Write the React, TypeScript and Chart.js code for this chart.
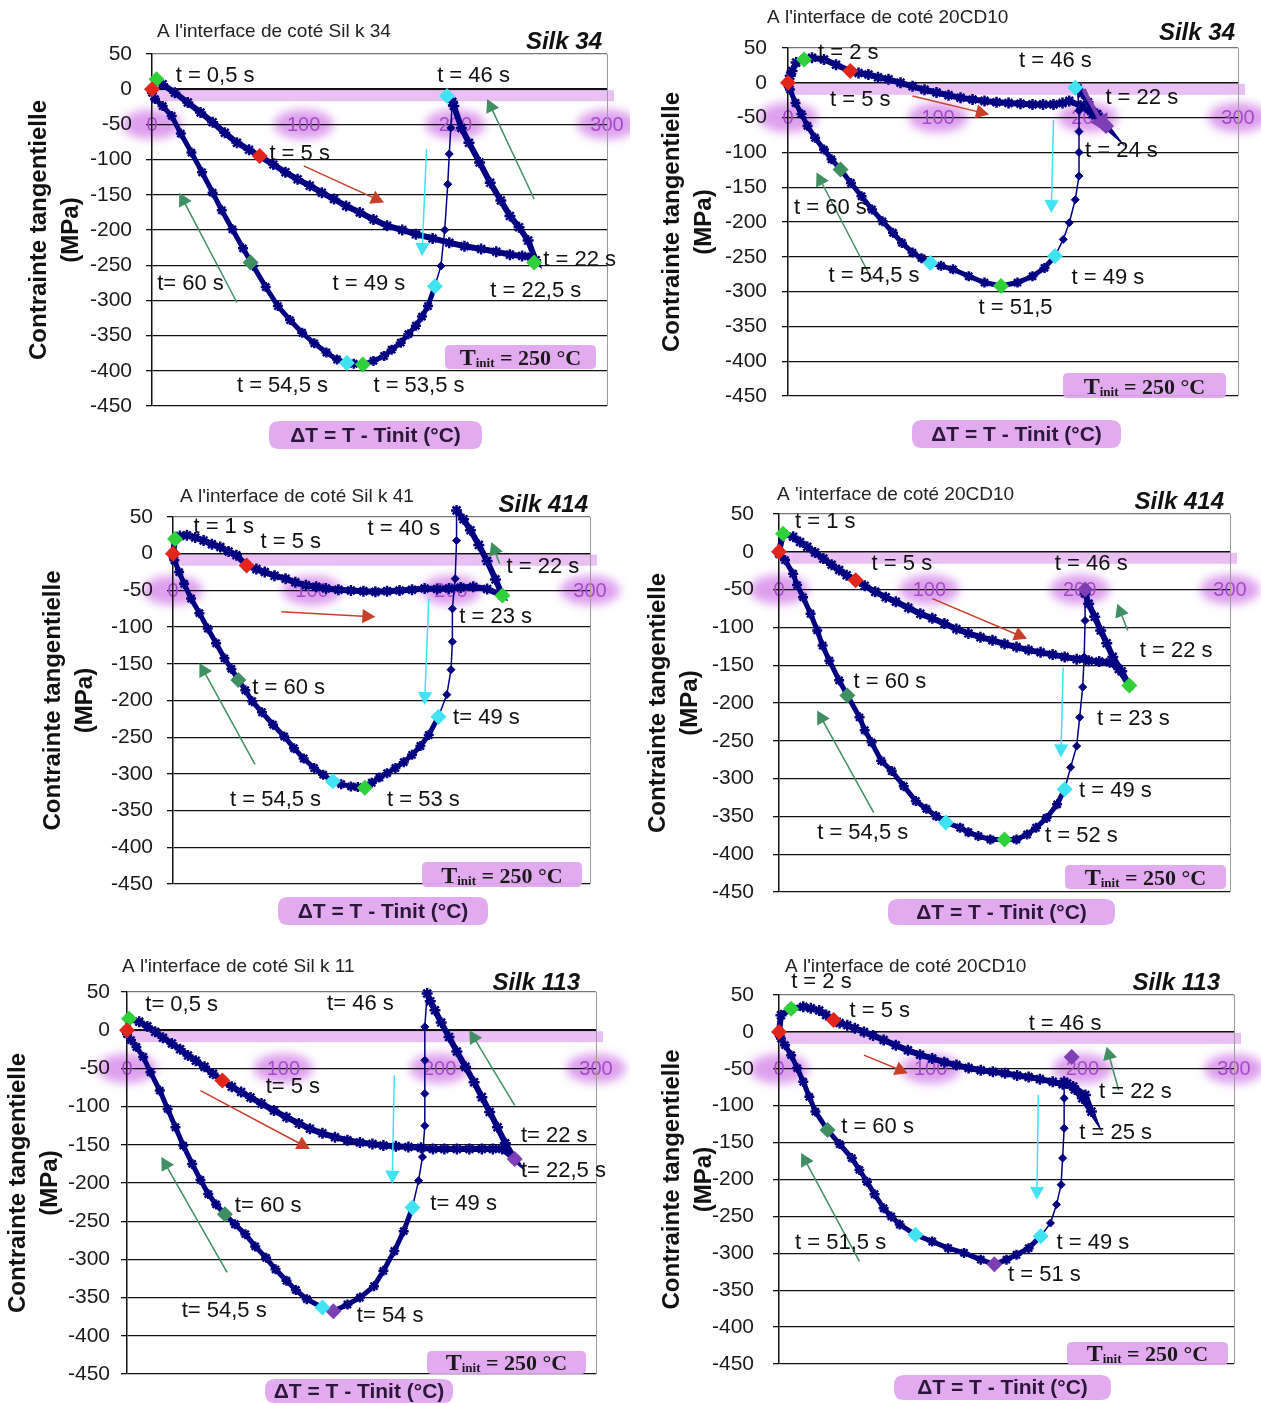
import React, { useEffect, useRef } from 'react';
import { Chart, registerables } from 'chart.js';
Chart.register(...registerables);

type Pt = [number, number];
type Lbl = [string, number, number];
type Arr = [number, number, number, number];

// ---------- shared axis values ----------
const xMin = 0, xMax = 300, xStep = 100;
const yMin = -450, yMax = 50, yStep = 50;
const yTitle = ['Contrainte tangentielle', '(MPa)'];
const xTitle = 'ΔT = T - Tinit (°C)';
const tinitMain = 'T', tinitSub = 'init', tinitRest = ' = 250 °C';

// ---------- Panel 1 : Silk 34, interface côté Silk 34 ----------
const p1Title = "A l'interface de coté Sil k 34";
const p1Silk = 'Silk 34';
const p1Heat: Pt[] = [[0,0],[3,12],[7,7],[15,-5],[23.6,-19],[32,-33],[40,-47],[48,-62],[56,-76],[64,-86],[71,-95],[80,-107],[88,-118],[96,-128],[104,-137],[112,-147],[120,-156],[128,-166],[137,-175],[146,-185],[155,-194],[165,-200],[174,-206],[185,-212],[196,-218],[206,-223],[217,-227],[227,-231],[236,-235],[244,-237],[250,-238],[253,-243],[248,-215],[242,-196],[236,-180],[230,-158],[223,-133],[216,-104],[209,-76],[204,-55],[199,-24],[198,-18]];
const p1Jump: Pt[] = [[198,-18],[197,-55],[196,-92],[195,-135],[193,-200],[190.5,-251],[186.5,-280]];
const p1Cool: Pt[] = [[186.5,-280],[182,-308],[178,-323],[174,-336],[169,-348],[164,-360],[158,-370],[153,-379],[146,-386],[139,-391],[133,-390],[128.5,-389],[122,-384],[115,-374],[107,-361],[99,-346],[91,-328],[83,-308],[75,-281],[66.7,-251],[60,-226],[53,-199],[46,-172],[40,-147],[33,-118],[26,-90],[19,-63],[13,-38],[7,-24],[2,-14],[0,-5]];
const p1Red: Pt[] = [[0,0],[71,-95]];
const p1Green: Pt[] = [[3,14],[252,-246],[139,-391]];
const p1DkGreen: Pt[] = [[65,-246]];
const p1Cyan: Pt[] = [[194.5,-9.5],[186.5,-280],[128.5,-389]];
const p1Purple: Pt[] = [];
const p1Labels: Lbl[] = [['t = 0,5 s',15.6,19],['t = 46 s',188,19],['t = 5 s',77.4,-92],['t= 60 s',3.4,-277],['t = 49 s',119,-277],['t = 22 s',258,-242],['t = 22,5 s',223,-287],['t = 54,5 s',56,-422],['t = 53,5 s',146,-422]];
const p1RedArrows: Arr[] = [[100,-109,153,-161]];
const p1GreenArrows: Arr[] = [[56,-303,18,-147],[252,-156,221,-14]];
const p1CyanArrows: Arr[] = [[181,-85,178,-237]];
const p1PurpleArrows: Arr[] = [];

// ---------- Panel 2 : Silk 34, interface côté 20CD10 ----------
const p2Title = "A l'interface de coté 20CD10";
const p2Silk = 'Silk 34';
const p2Heat: Pt[] = [[0,0],[1.5,10],[2.7,17],[5.4,29],[10.7,33.5],[16,36],[24,33.5],[32,26],[41.5,17],[47,14],[53.6,12],[60,8],[67,5],[75,0],[83,-5],[91,-10],[99,-14],[107,-18],[115,-21.5],[123,-24],[131,-26],[139,-28],[147,-29],[155,-30],[163,-31],[170,-31],[177,-31],[183,-29],[187.5,-26],[195,-33],[203,-45],[212,-62],[206,-45],[200,-28],[196,-15],[193,-8]];
const p2Jump: Pt[] = [[193,-8],[194,-40],[194,-70],[194,-100],[194,-134],[191.5,-168],[187.5,-201],[183.5,-225],[178,-249]];
const p2Cool: Pt[] = [[178,-249],[171,-266],[163,-278],[153,-287],[142,-292],[131,-287],[120.5,-278],[110,-268],[102,-263],[95,-259],[89,-252],[83,-244],[76,-230],[70,-215.5],[63,-199],[56,-182],[49,-163],[42,-144],[35,-124.5],[29,-110],[24,-96],[18,-79],[13,-62],[9,-45],[5,-29],[1.3,-9.6],[0,-3]];
const p2Red: Pt[] = [[0,0],[41.5,17]];
const p2Green: Pt[] = [[10.7,33.5],[142,-292]];
const p2DkGreen: Pt[] = [[35,-124.5]];
const p2Cyan: Pt[] = [[191.5,-7],[178,-249],[95,-259]];
const p2Purple: Pt[] = [[212,-62]];
const p2Labels: Lbl[] = [['t = 2 s',20,43],['t = 46 s',154,31],['t = 5 s',28,-24],['t = 22 s',211.6,-21.5],['t = 24 s',198,-98],['t = 60 s',4,-179.6],['t = 54,5 s',27,-278],['t = 51,5',127,-323],['t = 49 s',189,-280]];
const p2RedArrows: Arr[] = [[83,-19,134,-45.5]];
const p2GreenArrows: Arr[] = [[56,-283,19,-129]];
const p2CyanArrows: Arr[] = [[177,-53,175.5,-187]];
const p2PurpleArrows: Arr[] = [[197,-10,213,-72]];

// ---------- Panel 3 : Silk 414, interface côté Silk 41 ----------
const p3Title = "A l'interface de coté Sil k 41";
const p3Silk = 'Silk 414';
const p3Heat: Pt[] = [[0,0],[1.5,20],[5,24],[10,25],[16,22],[22,18],[28,13],[34,9],[40,3],[45.6,-2],[53,-16],[60,-21],[66,-25],[73,-30],[81,-34],[88,-39],[95.6,-43],[103,-45],[110,-47.5],[119,-49],[128,-50],[137,-51],[145.6,-52],[154,-51],[163,-50],[172,-49],[181,-47.5],[190,-48],[198.5,-47.5],[207,-46],[216,-45],[226,-48],[237,-57],[232,-35],[226,-10],[220,12],[214,32],[209,47],[204,59]];
const p3Jump: Pt[] = [[204,59],[204,18],[203,-34],[201,-75],[201,-120],[200,-158],[197,-192],[191,-222]];
const p3Cool: Pt[] = [[191,-222],[184,-247],[178,-262],[172,-274],[166,-284],[160,-292],[154,-299],[148.5,-305],[143,-312],[138,-319],[133,-318],[128,-317],[121,-314],[115,-310],[108,-301],[101.5,-292],[94,-279],[87,-265],[80,-249],[72,-233],[64,-216],[57,-201],[52,-186],[47,-172],[42,-157],[37,-142.5],[31,-122],[25,-102],[19,-81],[13,-61],[8,-41],[4.4,-25],[1,-9],[0,-3]];
const p3Red: Pt[] = [[0,0],[53,-16]];
const p3Green: Pt[] = [[1.5,20],[138,-319],[237,-57]];
const p3DkGreen: Pt[] = [[47,-172]];
const p3Cyan: Pt[] = [[191,-222],[115,-310]];
const p3Purple: Pt[] = [];
const p3Labels: Lbl[] = [['t = 1 s',14.7,36],['t = 5 s',63,16],['t = 40 s',140,34],['t = 22 s',240,-18],['t = 23 s',206,-86],['t = 60 s',57,-183],['t= 49 s',201.5,-224],['t = 54,5 s',41,-335],['t = 53 s',154,-335]];
const p3RedArrows: Arr[] = [[78,-79,145.6,-86]];
const p3GreenArrows: Arr[] = [[59,-287,19,-149],[235,-13.6,229,16]];
const p3CyanArrows: Arr[] = [[184,-61,181,-206]];
const p3PurpleArrows: Arr[] = [];

// ---------- Panel 4 : Silk 414, interface côté 20CD10 ----------
const p4Title = "A 'interface de coté 20CD10";
const p4Silk = 'Silk 414';
const p4Heat: Pt[] = [[0,0],[2.7,24],[9.4,20],[14,13],[18.8,6.6],[24,-1],[29.5,-9],[35,-17],[40,-24],[45,-31],[51,-37.6],[57,-45],[64,-53],[71,-60],[77.7,-66],[86,-74],[94,-82],[102,-88],[110,-95],[118,-102],[126,-108],[134,-113],[142,-117],[150,-122],[158,-126],[166,-130],[174,-133],[182,-136],[190,-139],[198,-142],[206,-144],[213,-145],[220,-146],[226,-155],[233,-177],[228,-158],[222,-139],[218,-121],[214,-104],[210,-86],[206,-68.6],[203.6,-55]];
const p4Jump: Pt[] = [[203.6,-55],[203.6,-91],[203,-139],[202,-179],[200,-219],[198,-257],[194,-285],[190,-314]];
const p4Cool: Pt[] = [[190,-314],[185,-334],[178,-352],[171,-365],[165,-374],[158,-380.5],[150,-380.5],[140.6,-380.5],[132.6,-376],[126,-371],[120.5,-365],[111,-358],[104.5,-349.6],[98,-340],[91,-329.6],[83,-310],[75,-290],[68,-276.5],[61.6,-252],[57,-236],[53.6,-219],[45.5,-190],[40,-170],[33.5,-144],[29,-124],[25.4,-104],[21,-82],[16,-60],[12,-44],[9.4,-29],[4,-11],[0,-3]];
const p4Red: Pt[] = [[0,0],[51,-37.6]];
const p4Green: Pt[] = [[2.7,24],[150,-380.5],[233,-177]];
const p4DkGreen: Pt[] = [[45.5,-190]];
const p4Cyan: Pt[] = [[190,-314],[111,-358]];
const p4Purple: Pt[] = [[203.6,-50]];
const p4Labels: Lbl[] = [['t = 1 s',10.7,40],['t = 5 s',61.6,-15.5],['t = 46 s',183.5,-15.5],['t = 22 s',240,-130.5],['t = 60 s',49.6,-172.6],['t = 23 s',211.6,-221],['t = 49 s',199.6,-316],['t = 54,5 s',25.4,-372],['t = 52 s',177,-376]];
const p4RedArrows: Arr[] = [[102,-62,165,-115]];
const p4GreenArrows: Arr[] = [[63,-345,25.4,-210],[232,-104,225,-68.6]];
const p4CyanArrows: Arr[] = [[189,-153,187.5,-272]];
const p4PurpleArrows: Arr[] = [];

// ---------- Panel 5 : Silk 113, interface côté Silk 11 ----------
const p5Title = "A l'interface de coté Sil k 11";
const p5Silk = 'Silk 113';
const p5Heat: Pt[] = [[0,0],[1.3,15],[7.8,11],[13,5],[18,-2],[23,-10],[28.7,-17.5],[34,-25],[39,-33],[44,-40],[49.6,-48],[55,-57],[61,-66],[67,-74],[73,-81],[79,-88],[86,-96],[94,-105],[102,-114],[110,-122],[117,-129],[125,-135],[133,-140],[141,-144],[149,-147],[157,-149],[164,-151],[172,-152],[180,-153],[188,-154],[195.7,-155.4],[203,-155.4],[211,-155.4],[219,-155.4],[227,-155.4],[234,-155.4],[240,-155.4],[248,-168.6],[242,-148],[237,-127],[232,-107],[227,-87.6],[222,-68],[216.5,-48],[211,-28],[206,-9],[201,10],[197,26],[194,38],[192,48]];
const p5Jump: Pt[] = [[192,48],[190.5,4.4],[190.5,-39.4],[190.5,-83],[190.5,-125],[189,-166],[186.5,-197],[182.6,-232]];
const p5Cool: Pt[] = [[182.6,-232],[177,-263],[171,-289],[164,-315],[158,-335],[149,-350],[141,-359],[132,-368],[125,-363],[115,-352],[108,-340],[102,-328],[95,-313],[89,-298],[82,-283],[75.7,-267],[69,-254],[62.6,-241],[57,-228],[52,-214.5],[47,-196],[41.7,-175],[36,-151],[31,-127],[26,-103],[21,-79],[15,-55],[10.4,-35],[6,-22],[2.6,-13],[0,-5]];
const p5Red: Pt[] = [[0,0],[61,-66]];
const p5Green: Pt[] = [[1.3,15]];
const p5DkGreen: Pt[] = [[62.6,-241]];
const p5Cyan: Pt[] = [[182.6,-232],[125,-363]];
const p5Purple: Pt[] = [[132,-368],[248,-168.6]];
const p5Labels: Lbl[] = [['t= 0,5 s',11.7,33],['t= 46 s',128,35],['t= 5 s',88.7,-74],['t= 22 s',252,-138],['t= 22,5 s',252,-184],['t= 60 s',69,-230],['t= 49 s',194,-228],['t= 54,5 s',35,-368],['t= 54 s',147,-374]];
const p5RedArrows: Arr[] = [[47,-79,117,-155.4]];
const p5GreenArrows: Arr[] = [[64,-317,22,-166],[248,-98.5,219,0]];
const p5CyanArrows: Arr[] = [[171,-59,169.6,-201]];
const p5PurpleArrows: Arr[] = [];

// ---------- Panel 6 : Silk 113, interface côté 20CD10 ----------
const p6Title = "A l'interface de coté 20CD10";
const p6Silk = 'Silk 113';
const p6Heat: Pt[] = [[0,0],[1.3,22.5],[8,31.5],[16,34],[21,32],[26.5,29],[31,23],[36,16],[40,12],[45,9],[50,5],[56,0],[62,-5],[69,-11],[77,-18],[85,-25],[93,-31],[101,-36],[109,-41],[117,-45],[125,-49],[133,-52],[141,-54],[149,-56],[157,-59],[164.6,-61],[172,-64],[180.5,-67.6],[187,-71],[194,-74],[202,-85.6],[206,-108],[200,-90],[195,-78],[190,-70],[188,-67.6]];
const p6Jump: Pt[] = [[188,-67.6],[188,-90],[188,-130.6],[187,-171],[186,-207],[183,-234],[179,-259],[172.5,-277]];
const p6Cool: Pt[] = [[172.5,-277],[164.6,-293],[156.6,-302],[150,-308.6],[142,-315],[133,-308.6],[122,-299.5],[111.5,-293],[101,-284],[90,-275],[79.6,-261],[74,-250],[69,-239],[63,-220],[58,-203],[53,-187],[48,-171],[40,-152],[32,-133],[24,-108],[20,-88],[16,-67.6],[12,-49],[8,-31.5],[4,-18],[1.3,-9],[0,-3]];
const p6Red: Pt[] = [[0,0],[36,16]];
const p6Green: Pt[] = [[8,31.5]];
const p6DkGreen: Pt[] = [[32,-133]];
const p6Cyan: Pt[] = [[172.5,-277],[90,-275]];
const p6Purple: Pt[] = [[142,-315],[193,-34]];
const p6Labels: Lbl[] = [['t = 2 s',8,67.6],['t = 5 s',46.5,29],['t = 46 s',164.6,11],['t = 22 s',211,-81],['t = 60 s',41,-128.4],['t = 25 s',198,-137],['t = 51,5 s',10.6,-286],['t = 49 s',183,-286],['t = 51 s',151,-329]];
const p6RedArrows: Arr[] = [[56,-31.5,85,-56]];
const p6GreenArrows: Arr[] = [[53,-311,14.6,-164],[224,-79,216,-20]];
const p6CyanArrows: Arr[] = [[171,-85.6,170,-227.5]];
const p6PurpleArrows: Arr[] = [];

// ---------- styles ----------
const SANS = "'Liberation Sans', Arial, Helvetica, sans-serif";
const SERIF = "'Liberation Serif', 'Times New Roman', serif";
const NAVY = '#000080';
const RED = '#e3261c';
const GREEN = '#2fd13a';
const DKGREEN = '#3f8f63';
const CYAN = '#3fe3f2';
const PURPLE = '#7d3fb3';
const LAV = 'rgba(218,150,236,0.9)';

interface PanelData {
  title: string; silk: string;
  heat: Pt[]; jump: Pt[]; cool: Pt[];
  red: Pt[]; green: Pt[]; dkgreen: Pt[]; cyan: Pt[]; purple: Pt[];
  labels: Lbl[];
  redArrows: Arr[]; greenArrows: Arr[]; cyanArrows: Arr[]; purpleArrows: Arr[];
}
interface Layout {
  L: number; T: number; W: number; H: number;
  x0: number; x1: number; yTop: number; yBot: number;
  tx1: number; tickPad: number;
  titlePos: [number, number]; silkPos: [number, number];
  tinit: [number, number, number, number]; dT: [number, number, number, number];
}

const panels: { d: PanelData; lay: Layout }[] = [
  { d: { title: p1Title, silk: p1Silk, heat: p1Heat, jump: p1Jump, cool: p1Cool, red: p1Red, green: p1Green, dkgreen: p1DkGreen, cyan: p1Cyan, purple: p1Purple, labels: p1Labels, redArrows: p1RedArrows, greenArrows: p1GreenArrows, cyanArrows: p1CyanArrows, purpleArrows: p1PurpleArrows },
    lay: { L: 0, T: 0, W: 630, H: 465, x0: 152, x1: 607, yTop: 54, yBot: 406, tx1: 39, tickPad: 14, titlePos: [157, 32], silkPos: [602, 42], tinit: [445, 345, 151, 24], dT: [269, 421, 213, 28] } },
  { d: { title: p2Title, silk: p2Silk, heat: p2Heat, jump: p2Jump, cool: p2Cool, red: p2Red, green: p2Green, dkgreen: p2DkGreen, cyan: p2Cyan, purple: p2Purple, labels: p2Labels, redArrows: p2RedArrows, greenArrows: p2GreenArrows, cyanArrows: p2CyanArrows, purpleArrows: p2PurpleArrows },
    lay: { L: 630, T: 0, W: 631, H: 465, x0: 788, x1: 1238, yTop: 48, yBot: 396, tx1: 672, tickPad: 15, titlePos: [767, 18], silkPos: [1235, 33], tinit: [1063, 373, 163, 25], dT: [912, 420, 209, 28] } },
  { d: { title: p3Title, silk: p3Silk, heat: p3Heat, jump: p3Jump, cool: p3Cool, red: p3Red, green: p3Green, dkgreen: p3DkGreen, cyan: p3Cyan, purple: p3Purple, labels: p3Labels, redArrows: p3RedArrows, greenArrows: p3GreenArrows, cyanArrows: p3CyanArrows, purpleArrows: p3PurpleArrows },
    lay: { L: 0, T: 465, W: 630, H: 470, x0: 173, x1: 590, yTop: 517, yBot: 884, tx1: 53, tickPad: 14, titlePos: [180, 497], silkPos: [588, 505], tinit: [422, 862, 160, 25], dT: [278, 897, 210, 28] } },
  { d: { title: p4Title, silk: p4Silk, heat: p4Heat, jump: p4Jump, cool: p4Cool, red: p4Red, green: p4Green, dkgreen: p4DkGreen, cyan: p4Cyan, purple: p4Purple, labels: p4Labels, redArrows: p4RedArrows, greenArrows: p4GreenArrows, cyanArrows: p4CyanArrows, purpleArrows: p4PurpleArrows },
    lay: { L: 630, T: 465, W: 631, H: 470, x0: 779, x1: 1230, yTop: 514, yBot: 892, tx1: 658, tickPad: 19, titlePos: [777, 495], silkPos: [1224, 502], tinit: [1065, 865, 161, 24], dT: [888, 899, 227, 26] } },
  { d: { title: p5Title, silk: p5Silk, heat: p5Heat, jump: p5Jump, cool: p5Cool, red: p5Red, green: p5Green, dkgreen: p5DkGreen, cyan: p5Cyan, purple: p5Purple, labels: p5Labels, redArrows: p5RedArrows, greenArrows: p5GreenArrows, cyanArrows: p5CyanArrows, purpleArrows: p5PurpleArrows },
    lay: { L: 0, T: 935, W: 630, H: 468, x0: 127, x1: 596, yTop: 992, yBot: 1374, tx1: 18, tickPad: 11, titlePos: [122, 967], silkPos: [580, 983], tinit: [427, 1351, 159, 23], dT: [265, 1379, 188, 24] } },
  { d: { title: p6Title, silk: p6Silk, heat: p6Heat, jump: p6Jump, cool: p6Cool, red: p6Red, green: p6Green, dkgreen: p6DkGreen, cyan: p6Cyan, purple: p6Purple, labels: p6Labels, redArrows: p6RedArrows, greenArrows: p6GreenArrows, cyanArrows: p6CyanArrows, purpleArrows: p6PurpleArrows },
    lay: { L: 630, T: 935, W: 631, H: 468, x0: 779, x1: 1234, yTop: 995, yBot: 1364, tx1: 672, tickPad: 19, titlePos: [785, 967], silkPos: [1220, 983], tinit: [1067, 1342, 161, 23], dT: [894, 1375, 217, 25] } },
];

const Y_TITLE_SIZE = 24;
const Y_TITLE_LH = 1.35;
const TICK_SIZE = 21;
const XTICK_SIZE = 20;
const LABEL_SIZE = 22;

const toXY = (a: Pt[]) => a.map(([x, y]) => ({ x, y }));

function roundRect(ctx: CanvasRenderingContext2D, x: number, y: number, w: number, h: number, r: number) {
  ctx.beginPath();
  ctx.moveTo(x + r, y);
  ctx.lineTo(x + w - r, y);
  ctx.quadraticCurveTo(x + w, y, x + w, y + r);
  ctx.lineTo(x + w, y + h - r);
  ctx.quadraticCurveTo(x + w, y + h, x + w - r, y + h);
  ctx.lineTo(x + r, y + h);
  ctx.quadraticCurveTo(x, y + h, x, y + h - r);
  ctx.lineTo(x, y + r);
  ctx.quadraticCurveTo(x, y, x + r, y);
  ctx.closePath();
}

function makePlugin(d: PanelData, lay: Layout, xPad: number) {
  return {
    id: 'deco',
    beforeDraw(chart: any) {
      const ctx: CanvasRenderingContext2D = chart.ctx;
      const xs = chart.scales.x, ys = chart.scales.y;
      const y0 = ys.getPixelForValue(0);
      ctx.save();
      ctx.filter = 'blur(5px)';
      ctx.fillStyle = LAV;
      xs.ticks.forEach((t: any) => {
        const px = xs.getPixelForValue(t.value);
        const py = y0 + xPad + XTICK_SIZE * 0.55;
        ctx.beginPath();
        ctx.ellipse(px, py, 30, 15, 0, 0, Math.PI * 2);
        ctx.fill();
      });
      ctx.restore();
    },
    beforeDatasetsDraw(chart: any) {
      const ctx: CanvasRenderingContext2D = chart.ctx;
      const ca = chart.chartArea;
      const ys = chart.scales.y;
      const y0 = ys.getPixelForValue(0);
      ctx.save();
      ctx.fillStyle = 'rgba(226,170,240,0.75)';
      ctx.fillRect(ca.left + 1, y0 + 1, ca.right - ca.left + 6, 11);
      ctx.strokeStyle = '#9a9a9a';
      ctx.lineWidth = 1;
      ctx.beginPath();
      ctx.moveTo(ca.right + 0.5, ca.top);
      ctx.lineTo(ca.right + 0.5, ca.bottom);
      ctx.stroke();
      ctx.restore();
    },
    afterDatasetsDraw(chart: any) {
      const ctx: CanvasRenderingContext2D = chart.ctx;
      const xs = chart.scales.x, ys = chart.scales.y;
      const arrow = (a: Arr, color: string, width: number, head: number) => {
        const x1 = xs.getPixelForValue(a[0]), y1 = ys.getPixelForValue(a[1]);
        const x2 = xs.getPixelForValue(a[2]), y2 = ys.getPixelForValue(a[3]);
        const ang = Math.atan2(y2 - y1, x2 - x1);
        ctx.strokeStyle = color;
        ctx.fillStyle = color;
        ctx.lineWidth = width;
        ctx.beginPath();
        ctx.moveTo(x1, y1);
        ctx.lineTo(x2 - Math.cos(ang) * head * 0.6, y2 - Math.sin(ang) * head * 0.6);
        ctx.stroke();
        ctx.beginPath();
        ctx.moveTo(x2, y2);
        ctx.lineTo(x2 - head * Math.cos(ang) + head * 0.55 * Math.sin(ang), y2 - head * Math.sin(ang) - head * 0.55 * Math.cos(ang));
        ctx.lineTo(x2 - head * Math.cos(ang) - head * 0.55 * Math.sin(ang), y2 - head * Math.sin(ang) + head * 0.55 * Math.cos(ang));
        ctx.closePath();
        ctx.fill();
      };
      ctx.save();
      d.redArrows.forEach(a => arrow(a, '#c8402a', 1.5, 13));
      d.greenArrows.forEach(a => arrow(a, DKGREEN, 1.5, 13));
      d.cyanArrows.forEach(a => arrow(a, CYAN, 1.5, 13));
      d.purpleArrows.forEach(a => arrow(a, PURPLE, 4, 18));
      ctx.fillStyle = '#111';
      ctx.font = `${LABEL_SIZE}px ${SANS}`;
      ctx.textAlign = 'left';
      ctx.textBaseline = 'middle';
      d.labels.forEach(([s, x, y]) => {
        ctx.fillText(s, xs.getPixelForValue(x), ys.getPixelForValue(y));
      });
      ctx.restore();
    },
    afterDraw(chart: any) {
      const ctx: CanvasRenderingContext2D = chart.ctx;
      const ox = lay.L, oy = lay.T;
      ctx.save();
      ctx.fillStyle = '#222';
      ctx.font = `19px ${SANS}`;
      ctx.textAlign = 'left';
      ctx.textBaseline = 'middle';
      ctx.fillText(d.title, lay.titlePos[0] - ox, lay.titlePos[1] - oy);
      ctx.fillStyle = '#111';
      ctx.font = `italic bold 24px ${SANS}`;
      ctx.textAlign = 'right';
      ctx.fillText(d.silk, lay.silkPos[0] - ox, lay.silkPos[1] - oy);
      const [bx, by, bw, bh] = lay.tinit;
      ctx.fillStyle = 'rgba(224,166,238,0.95)';
      roundRect(ctx, bx - ox, by - oy, bw, bh, 5);
      ctx.fill();
      ctx.fillStyle = '#1a1a1a';
      ctx.textAlign = 'left';
      ctx.textBaseline = 'alphabetic';
      const f1 = `bold 24px ${SERIF}`, f2 = `bold 13px ${SERIF}`, f3 = `bold 22px ${SERIF}`;
      ctx.font = f1; const w1 = ctx.measureText(tinitMain).width;
      ctx.font = f2; const w2 = ctx.measureText(tinitSub).width;
      ctx.font = f3; const w3 = ctx.measureText(tinitRest).width;
      let tx = bx - ox + (bw - (w1 + w2 + w3)) / 2;
      const base = by - oy + bh - 4;
      ctx.font = f1; ctx.fillText(tinitMain, tx, base); tx += w1;
      ctx.font = f2; ctx.fillText(tinitSub, tx, base + 2); tx += w2;
      ctx.font = f3; ctx.fillText(tinitRest, tx, base);
      const [dx, dy, dw, dh] = lay.dT;
      ctx.fillStyle = 'rgba(224,166,238,0.95)';
      roundRect(ctx, dx - ox, dy - oy, dw, dh, 10);
      ctx.fill();
      ctx.fillStyle = '#2a1838';
      ctx.font = `bold 21px ${SANS}`;
      ctx.textAlign = 'center';
      ctx.textBaseline = 'middle';
      ctx.fillText(xTitle, dx - ox + dw / 2, dy - oy + dh / 2 + 1);
      ctx.restore();
    },
  };
}

function Panel({ d, lay }: { d: PanelData; lay: Layout }) {
  const ref = useRef<HTMLCanvasElement>(null);
  useEffect(() => {
    const cv = ref.current;
    if (!cv) return;
    const lh = Y_TITLE_SIZE * Y_TITLE_LH;
    const padLeft = Math.max(0, lay.tx1 - lay.L - lh / 2);
    const yWidth = lay.x0 - lay.L - padLeft;
    const spacing = (lay.yBot - lay.yTop) / 10;
    const xPad = spacing - XTICK_SIZE * 0.55;
    const marker = (data: Pt[], color: string, r: number) => ({
      data: toXY(data), showLine: false, pointStyle: 'rectRot', pointRadius: r, pointHoverRadius: r,
      pointBackgroundColor: color, pointBorderColor: color, borderWidth: 0, clip: false, order: 0,
    });
    const line = (data: Pt[], w: number, r: number, style: string, pbw: number) => ({
      data: toXY(data), showLine: true, borderColor: NAVY, borderWidth: w, pointStyle: style,
      pointRadius: r, pointHoverRadius: r, pointBackgroundColor: NAVY, pointBorderColor: NAVY,
      pointBorderWidth: pbw, clip: false, order: 1, tension: 0,
    });
    const chart = new Chart(cv, {
      type: 'scatter',
      data: {
        datasets: [
          marker(d.red, RED, 8),
          marker(d.green, GREEN, 8),
          marker(d.dkgreen, DKGREEN, 8),
          marker(d.cyan, CYAN, 8),
          marker(d.purple, PURPLE, 8),
          line(d.heat, 6, 5.5, 'star', 2.5),
          line(d.jump, 1.5, 4, 'rectRot', 1),
          line(d.cool, 5, 5, 'star', 2.5),
        ] as any,
      },
      options: {
        animation: false,
        responsive: false,
        devicePixelRatio: 1,
        events: [],
        layout: {
          padding: {
            left: padLeft,
            top: lay.yTop - lay.T,
            right: lay.L + lay.W - lay.x1,
            bottom: lay.T + lay.H - lay.yBot,
          },
        },
        plugins: { legend: { display: false }, tooltip: { enabled: false }, title: { display: false } },
        scales: {
          x: {
            type: 'linear',
            min: xMin, max: xMax,
            position: { y: 0 },
            ticks: { stepSize: xStep, color: '#a34cc8', font: { family: SANS, size: XTICK_SIZE }, padding: xPad, maxRotation: 0 },
            grid: { display: true, drawOnChartArea: false, drawTicks: false },
            border: { display: true, color: '#111', width: 1.5 },
            afterFit: (s: any) => { s.height = 0; s.paddingLeft = 0; s.paddingRight = 0; },
          },
          y: {
            type: 'linear',
            min: yMin, max: yMax,
            ticks: { stepSize: yStep, color: '#1a1a1a', font: { family: SANS, size: TICK_SIZE }, padding: lay.tickPad },
            grid: {
              color: (c: any) => (c.tick && c.tick.value === yMax ? '#777' : '#111'),
              lineWidth: 1.3, drawTicks: true, tickLength: 6, tickColor: '#111',
            },
            border: { display: true, color: '#111', width: 1.5 },
            title: {
              display: true, text: yTitle, color: '#111', padding: 0,
              font: { family: SANS, size: Y_TITLE_SIZE, weight: 'bold', lineHeight: Y_TITLE_LH },
            },
            afterFit: (s: any) => { s.width = yWidth; s.paddingTop = 0; s.paddingBottom = 0; },
          },
        },
      } as any,
      plugins: [makePlugin(d, lay, xPad) as any],
    });
    return () => chart.destroy();
  }, []);
  return (
    <canvas
      ref={ref}
      width={lay.W}
      height={lay.H}
      style={{ position: 'absolute', left: lay.L, top: lay.T, width: lay.W, height: lay.H }}
    />
  );
}

export default function App() {
  return (
    <div style={{ position: 'absolute', left: 0, top: 0, width: 1261, height: 1403, background: '#fff', overflow: 'hidden' }}>
      {panels.map((p, i) => (
        <Panel key={i} d={p.d} lay={p.lay} />
      ))}
    </div>
  );
}
